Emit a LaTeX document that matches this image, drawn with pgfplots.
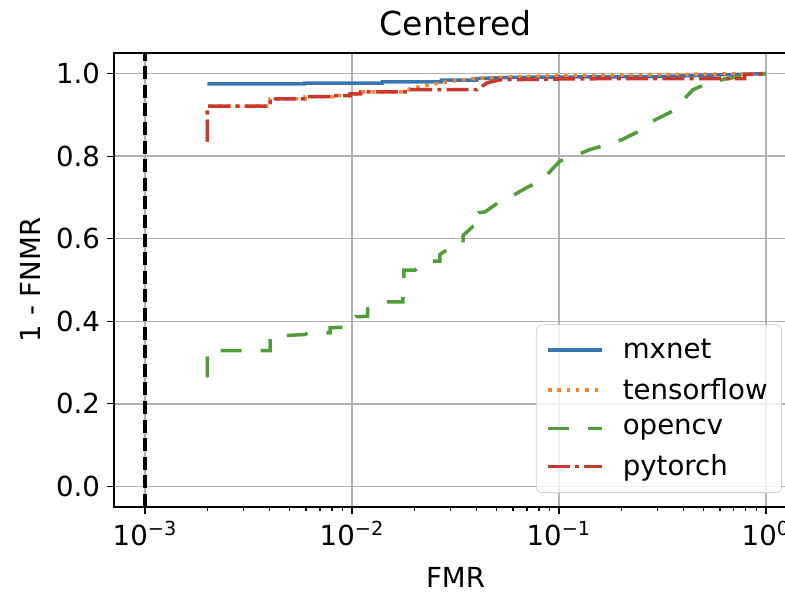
\documentclass[border=0pt]{standalone}
\usepackage{fontspec}
\setmainfont{DejaVu Sans}
\usepackage{pgfplots}
\pgfplotsset{compat=1.18}

\definecolor{cblue}{RGB}{58,118,178}
\definecolor{corange}{RGB}{245,133,45}
\definecolor{cgreen}{RGB}{80,158,55}
\definecolor{cred}{RGB}{202,55,45}

\begin{document}
\begin{tikzpicture}
\begin{axis}[
  at={(0,0)}, anchor=south west,
  scale only axis, width=341.5pt, height=227pt,
  xmode=log, xmin=7.08e-4, xmax=1.413, ymin=-0.05, ymax=1.05,
  xtick={1e-3,1e-2,1e-1,1},
  xticklabels={10\textsuperscript{−3},10\textsuperscript{−2},10\textsuperscript{−1},10\textsuperscript{0}},
  ytick={0,0.2,0.4,0.6,0.8,1.0},
  yticklabels={0.0,0.2,0.4,0.6,0.8,1.0},
  tick pos=left,
  tick align=outside,
  major tick length=3.5pt, minor tick length=2pt,
  tick style={black, line width=0.6pt},
  xmajorgrids, ymajorgrids,
  grid style={color={rgb,255:red,178;green,178;blue,178}, line width=0.75pt},
  axis line style={line width=0.9pt},
  ticklabel style={font=\fontsize{13.8}{16}\selectfont},
  title=Centered,
  title style={at={(axis description cs:0.5,1.0396)}, anchor=center, font=\fontsize{16.5}{19}\selectfont},
  xlabel=FMR,
  xlabel style={at={(axis description cs:0.5,-0.156)}, anchor=center, font=\fontsize{13.8}{16}\selectfont},
  ylabel={1 - FNMR},
  every axis y label/.style={at={(axis description cs:-0.123,0.5)}, rotate=90, anchor=center, font=\fontsize{13.8}{16}\selectfont},
  legend style={at={(axis description cs:0.978,0.0308)}, anchor=south east,
    draw=black!18, rounded corners=3pt, fill=white, fill opacity=0.8, draw opacity=1, text opacity=1,
    font=\fontsize{13.8}{16}\selectfont, cells={anchor=west}, row sep=4.5pt, column sep=7.5pt,
    inner xsep=5pt, inner ysep=5pt},
  legend image code/.code={\draw[#1] (0pt,0pt) -- (27pt,0pt);},
  every axis plot/.append style={line width=1.75pt},
]
\addplot[cblue, line cap=butt] coordinates {
(0.002,0.975) (0.0059,0.975) (0.0059,0.977) (0.014,0.977) (0.014,0.980)
(0.027,0.980) (0.027,0.984) (0.040,0.984) (0.040,0.988) (0.060,0.991)
(0.300,0.993) (1.0,1.0)
};
\addlegendentry{mxnet}
\addplot[corange, line cap=butt, dash pattern=on 1.75pt off 2.9pt] coordinates {
(0.002,0.835) (0.002,0.921) (0.00402,0.921) (0.00402,0.939) (0.00593,0.939)
(0.00593,0.944) (0.00809,0.944) (0.00809,0.947) (0.00978,0.947) (0.00978,0.951)
(0.011,0.951) (0.011,0.956) (0.0185,0.956) (0.0191,0.964) (0.0238,0.973)
(0.0288,0.980) (0.0385,0.988) (0.050,0.991) (0.100,0.995) (0.200,0.997) (1.0,1.0)
};
\addlegendentry{tensorflow}
\addplot[cgreen, line cap=butt, dash pattern=on 10.5pt off 9.5pt] coordinates {
(0.002,0.264) (0.002,0.329) (0.00402,0.329) (0.00402,0.362) (0.00501,0.366)
(0.00593,0.368) (0.00613,0.372) (0.00783,0.372) (0.00783,0.384) (0.00925,0.386)
(0.0100,0.390) (0.01045,0.411) (0.0119,0.412) (0.0119,0.430) (0.0144,0.447)
(0.0176,0.447) (0.0178,0.501) (0.0178,0.524) (0.0202,0.524) (0.0233,0.546)
(0.0266,0.546) (0.0266,0.562) (0.0315,0.586) (0.0344,0.590) (0.0344,0.608)
(0.0385,0.630) (0.0411,0.630) (0.0411,0.663) (0.0439,0.665) (0.0507,0.687)
(0.060,0.705) (0.070,0.724) (0.0837,0.743) (0.0906,0.763) (0.101,0.788)
(0.1195,0.801) (0.141,0.816) (0.171,0.828) (0.2015,0.840) (0.238,0.858)
(0.269,0.879) (0.344,0.906) (0.393,0.933) (0.444,0.961) (0.525,0.977)
(0.634,0.987) (0.80,0.995) (1.0,1.0)
};
\addlegendentry{opencv}
\addplot[cred, line cap=butt, dash pattern=on 11pt off 2.6pt on 2pt off 2.6pt] coordinates {
(0.002,0.835) (0.002,0.921) (0.00402,0.921) (0.00402,0.939) (0.00593,0.939)
(0.00593,0.944) (0.00809,0.944) (0.00809,0.947) (0.00978,0.947) (0.00978,0.951)
(0.011,0.951) (0.011,0.956) (0.0185,0.956) (0.0185,0.961) (0.0402,0.961)
(0.045,0.978) (0.0519,0.985) (0.100,0.987) (0.200,0.988) (0.79,0.988)
(0.79,0.998) (1.0,1.0)
};
\addlegendentry{pytorch}
\addplot[black, line width=2pt, line cap=butt, dash pattern=on 6.5pt off 2.8pt, forget plot] coordinates {
(0.001,-0.05) (0.001,1.05)
};
\end{axis}
\pgfresetboundingbox
\useasboundingbox (-57pt,-43pt) rectangle (335.5pt,253.5pt);
\end{tikzpicture}
\end{document}
